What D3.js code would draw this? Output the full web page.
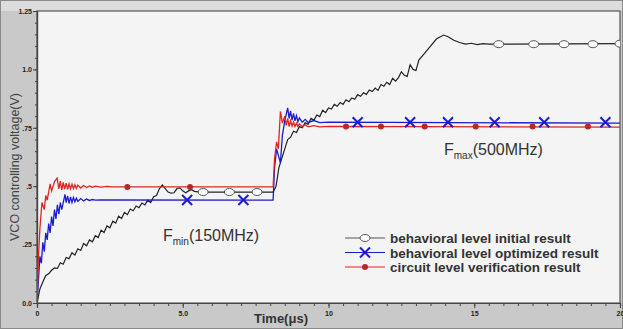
<!DOCTYPE html>
<html>
<head>
<meta charset="utf-8">
<script src="https://cdn.jsdelivr.net/npm/d3@7"></script>
<style>
  body { margin: 0; background: #c9c9c9; }
  svg { display: block; font-family: "Liberation Sans", Arial, sans-serif; }
</style>
</head>
<body>
<div id="chart"></div>
<script>
// ---- data ----
const xTicks = [0, 5, 10, 15, 20];
const xTickLabels = ["0", "5.0", "10", "15", "20"];
const yTicks = [0, 0.25, 0.5, 0.75, 1.0, 1.25];
const yTickLabels = ["0.0", ".25", ".5", ".75", "1.0", "1.25"];

const seriesNames = [
  "behavioral level initial result",
  "behavioral level optimized result",
  "circuit level verification result"
];

// behavioral level initial result (black)
const initialT = [0, 0.1, 0.2, 0.3, 0.4, 0.5, 0.6, 0.7, 0.8, 0.9, 1.0, 1.1, 1.2, 1.3, 1.4, 1.5, 1.6, 1.7, 1.8, 1.9,
  2.0, 2.1, 2.2, 2.3, 2.4, 2.5, 2.6, 2.7, 2.8, 2.9, 3.0, 3.1, 3.2, 3.3, 3.4, 3.5, 3.6, 3.7, 3.8, 3.9,
  4.0, 4.1, 4.2, 4.3, 4.4, 4.5, 4.6, 4.7, 4.8, 4.9, 5.0, 5.1, 5.2, 5.3, 5.4, 5.6, 8.1, 8.2, 8.3, 8.4,
  8.5, 8.6, 8.7, 8.8, 8.9, 9.0, 9.1, 9.2, 9.3, 9.4, 9.5, 9.6, 9.7, 9.8, 9.9, 10.0, 10.1, 10.2, 10.3, 10.4,
  10.5, 10.6, 10.7, 10.8, 10.9, 11.0, 11.1, 11.2, 11.3, 11.4, 11.5, 11.6, 11.7, 11.8, 11.9, 12.0, 12.1, 12.2, 12.3, 12.4,
  12.5, 12.6, 12.7, 12.8, 12.9, 13.0, 13.1, 13.3, 13.5, 13.7, 13.95, 14.1, 14.3, 14.5, 14.7, 14.9, 15.1, 15.3, 15.5, 20];
const initialV = [0, 0.06, 0.09, 0.118, 0.125, 0.14, 0.15, 0.148, 0.172, 0.166, 0.195, 0.19, 0.215, 0.205, 0.232, 0.225, 0.255, 0.245, 0.27, 0.262,
  0.288, 0.28, 0.312, 0.302, 0.33, 0.322, 0.35, 0.342, 0.372, 0.362, 0.388, 0.378, 0.402, 0.395, 0.415, 0.408, 0.428, 0.42, 0.44, 0.43,
  0.455, 0.46, 0.49, 0.505, 0.49, 0.475, 0.47, 0.472, 0.49, 0.493, 0.48, 0.472, 0.48, 0.485, 0.478, 0.475, 0.475, 0.5, 0.58, 0.62,
  0.66, 0.7, 0.71, 0.735, 0.73, 0.755, 0.75, 0.772, 0.765, 0.79, 0.782, 0.805, 0.798, 0.825, 0.815, 0.835, 0.83, 0.85, 0.842, 0.858,
  0.85, 0.87, 0.862, 0.878, 0.872, 0.892, 0.885, 0.9, 0.893, 0.912, 0.905, 0.92, 0.91, 0.935, 0.928, 0.945, 0.935, 0.962, 0.95, 0.965,
  0.99, 0.975, 0.97, 1.02, 1.0, 0.995, 1.04, 1.07, 1.1, 1.13, 1.147, 1.14, 1.125, 1.115, 1.108, 1.112, 1.106, 1.11, 1.108, 1.11];
const initialMarks = [5.7, 6.6, 7.55, 15.84, 17.04, 18.08, 19.07, 20.0];

// behavioral level optimized result (blue)
const optimT = [0, 0.05, 0.1, 0.15, 0.2, 0.25, 0.3, 0.35, 0.4, 0.45, 0.5, 0.55, 0.6, 0.65, 0.7, 0.75, 0.8, 0.85, 0.96, 1.0,
  1.05, 1.1, 1.15, 1.2, 1.25, 1.3, 1.35, 1.4, 1.5, 1.6, 1.7, 1.8, 1.9, 2.0, 2.2, 8.1, 8.15, 8.22, 8.35, 8.42,
  8.5, 8.6, 8.65, 8.7, 8.75, 8.8, 8.85, 8.9, 8.95, 9.0, 9.1, 9.2, 9.3, 9.5, 9.7, 10.0, 20];
const optimV = [0, 0.1, 0.2, 0.17, 0.26, 0.22, 0.3, 0.27, 0.34, 0.3, 0.37, 0.33, 0.4, 0.36, 0.42, 0.38, 0.43, 0.4, 0.465, 0.43,
  0.458, 0.426, 0.454, 0.43, 0.452, 0.433, 0.449, 0.435, 0.447, 0.437, 0.445, 0.439, 0.443, 0.44, 0.441, 0.44, 0.58, 0.66, 0.6, 0.72,
  0.78, 0.835, 0.79, 0.822, 0.783, 0.812, 0.78, 0.802, 0.776, 0.792, 0.774, 0.786, 0.773, 0.781, 0.772, 0.774, 0.77];
const optimMarks = [5.15, 7.08, 11.0, 12.8, 14.1, 15.7, 17.4, 19.5];

// circuit level verification result (red)
const circuitT = [0, 0.05, 0.1, 0.17, 0.25, 0.3, 0.35, 0.45, 0.5, 0.6, 0.69, 0.75, 0.8, 0.85, 0.9, 0.95, 1.0, 1.05, 1.1, 1.15,
  1.2, 1.25, 1.3, 1.35, 1.4, 1.5, 1.6, 1.7, 1.8, 1.9, 2.0, 2.2, 2.4, 2.6, 8.1, 8.15, 8.22, 8.28, 8.35, 8.42,
  8.5, 8.55, 8.6, 8.65, 8.7, 8.75, 8.8, 8.85, 8.9, 8.95, 9.0, 9.1, 9.2, 9.3, 9.5, 9.7, 10.0, 20];
const circuitV = [0, 0.2, 0.32, 0.43, 0.4, 0.46, 0.44, 0.51, 0.48, 0.52, 0.535, 0.488, 0.522, 0.484, 0.516, 0.488, 0.513, 0.487, 0.51, 0.489,
  0.508, 0.49, 0.506, 0.491, 0.505, 0.492, 0.503, 0.494, 0.501, 0.495, 0.5, 0.496, 0.499, 0.497, 0.497, 0.62, 0.69, 0.66, 0.82, 0.77,
  0.8, 0.76, 0.79, 0.755, 0.78, 0.757, 0.775, 0.756, 0.77, 0.756, 0.767, 0.755, 0.763, 0.754, 0.759, 0.754, 0.756, 0.753];
const circuitMarks = [3.1, 5.25, 10.6, 11.8, 13.3, 15.05, 17.0, 18.9];

// ---- layout ----
const width = 623, height = 329;
const margin = { top: 11, right: 3, bottom: 26, left: 37 };

const svg = d3.select("#chart").append("svg")
  .attr("width", width).attr("height", height);

svg.append("rect").attr("width", width).attr("height", height).attr("fill", "#c9c9c9");
svg.append("rect").attr("width", width).attr("height", margin.top).attr("fill", "#dcdcdc");
svg.append("rect").attr("x", 0.5).attr("y", 0.5).attr("width", width - 1).attr("height", height - 1)
  .attr("fill", "none").attr("stroke", "#8a8a8a");

const x = d3.scaleLinear().domain([0, 20]).range([margin.left, width - margin.right]);
const y = d3.scaleLinear().domain([0, 1.25]).range([height - margin.bottom, margin.top]);

svg.append("rect")
  .attr("x", x(0)).attr("y", y(1.25))
  .attr("width", x(20) - x(0)).attr("height", y(0) - y(1.25))
  .attr("fill", "#f4f4f4").attr("stroke", "#555").attr("stroke-width", 1.2);

svg.append("defs").append("clipPath").attr("id", "clip")
  .append("rect").attr("x", x(0)).attr("y", y(1.25))
  .attr("width", x(20) - x(0)).attr("height", y(0) - y(1.25));

// minor ticks
const xAxisMinor = svg.append("g").attr("transform", `translate(0,${y(0)})`)
  .call(d3.axisBottom(x).tickValues(d3.range(0, 20.01, 0.5)).tickSize(3).tickFormat(""));
const yAxisMinor = svg.append("g").attr("transform", `translate(${x(0)},0)`)
  .call(d3.axisLeft(y).tickValues(d3.range(0, 1.26, 0.05)).tickSize(2).tickFormat(""));

// major ticks
const xAxis = svg.append("g").attr("transform", `translate(0,${y(0)})`)
  .call(d3.axisBottom(x).tickValues(xTicks).tickSize(5).tickPadding(3)
    .tickFormat((d, i) => xTickLabels[i]));
const yAxis = svg.append("g").attr("transform", `translate(${x(0)},0)`)
  .call(d3.axisLeft(y).tickValues(yTicks).tickSize(4).tickPadding(1)
    .tickFormat((d, i) => yTickLabels[i]));

[xAxisMinor, yAxisMinor, xAxis, yAxis].forEach(g => {
  g.select(".domain").attr("stroke", "#444").attr("stroke-width", 1.2);
  g.selectAll(".tick line").attr("stroke", "#444");
});
[xAxis, yAxis].forEach(g => {
  g.selectAll(".tick text").attr("font-size", 7).attr("font-weight", "bold").attr("fill", "#222")
    .attr("font-family", "Liberation Sans, Arial, sans-serif");
});

// axis titles
svg.append("text")
  .attr("transform", `translate(19,${(y(0) + y(1.25)) / 2 + 10}) rotate(-90)`)
  .attr("text-anchor", "middle").attr("font-size", 12.5).attr("fill", "#444")
  .text("VCO controlling voltage(V)");
svg.append("text")
  .attr("x", 281).attr("y", 323).attr("text-anchor", "middle")
  .attr("font-size", 13).attr("font-weight", "bold").attr("fill", "#333")
  .text("Time(\u03bcs)");

// ---- series ----
const plot = svg.append("g").attr("clip-path", "url(#clip)");
const line = d3.line().x(d => x(d[0])).y(d => y(d[1]));
const zip = (ts, vs) => ts.map((t, i) => [t, vs[i]]);
const valueAt = (ts, vs, t) => {
  // marker sits on the last typed point at or before t
  let v = vs[0];
  ts.forEach((tt, i) => { if (tt <= t) v = vs[i]; });
  return v;
};

const BLACK = "#222", BLUE = "#1c1ccf", RED = "#e02424";

plot.append("path").datum(zip(initialT, initialV))
  .attr("fill", "none").attr("stroke", BLACK).attr("stroke-width", 1.2).attr("d", line);
plot.append("path").datum(zip(optimT, optimV))
  .attr("fill", "none").attr("stroke", BLUE).attr("stroke-width", 1.3).attr("d", line);
plot.append("path").datum(zip(circuitT, circuitV))
  .attr("fill", "none").attr("stroke", RED).attr("stroke-width", 1.3).attr("d", line);

function circleMark(g, cx, cy) {
  g.append("ellipse").attr("cx", cx).attr("cy", cy).attr("rx", 5).attr("ry", 3.5)
    .attr("fill", "#fafafa").attr("stroke", "#555").attr("stroke-width", 1);
}
function crossMark(g, cx, cy) {
  const s = 5;
  g.append("path").attr("d", `M${cx - s},${cy - s}L${cx + s},${cy + s}M${cx - s},${cy + s}L${cx + s},${cy - s}`)
    .attr("stroke", BLUE).attr("stroke-width", 2);
}
function dotMark(g, cx, cy) {
  g.append("circle").attr("cx", cx).attr("cy", cy).attr("r", 3).attr("fill", "#b82828");
}

initialMarks.forEach(t => circleMark(plot, x(t), y(valueAt(initialT, initialV, t))));
optimMarks.forEach(t => crossMark(plot, x(t), y(valueAt(optimT, optimV, t))));
circuitMarks.forEach(t => dotMark(plot, x(t), y(valueAt(circuitT, circuitV, t))));

// ---- annotations ----
function fLabel(px, py, sub, rest) {
  const t = svg.append("text").attr("x", px).attr("y", py).attr("font-size", 16).attr("fill", "#333");
  t.append("tspan").text("F");
  t.append("tspan").attr("font-size", 10).attr("dy", 4).text(sub);
  t.append("tspan").attr("dy", -4).text(rest);
}
fLabel(163, 241, "min", "(150MHz)");
fLabel(444, 155, "max", "(500MHz)");

// ---- legend ----
const legend = svg.append("g").attr("transform", "translate(345,238)");
const markFns = [circleMark, crossMark, dotMark];
const legColors = ["#555", BLUE, RED];
seriesNames.forEach((name, i) => {
  const row = legend.append("g").attr("transform", `translate(0,${i * 14.5})`);
  row.append("line").attr("x1", 0).attr("x2", 40).attr("y1", 0).attr("y2", 0)
    .attr("stroke", legColors[i]).attr("stroke-width", 1.2);
  markFns[i](row, 20, 0);
  row.append("text").attr("x", 45).attr("y", 5)
    .attr("font-size", 13.5).attr("font-weight", "bold").attr("fill", "#333")
    .text(name);
});
</script>
</body>
</html>
